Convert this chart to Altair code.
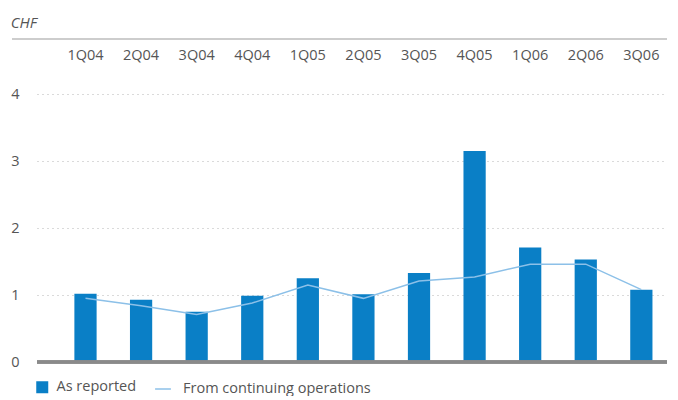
import altair as alt
import pandas as pd

quarters = ["1Q04", "2Q04", "3Q04", "4Q04", "1Q05", "2Q05", "3Q05", "4Q05", "1Q06", "2Q06", "3Q06"]
as_reported = [1.02, 0.93, 0.75, 0.99, 1.25, 1.01, 1.33, 3.15, 1.71, 1.53, 1.08]
continuing = [0.95, 0.84, 0.71, 0.88, 1.15, 0.95, 1.21, 1.27, 1.46, 1.46, 1.08]
y_ticks = [0, 0.5, 1, 1.5, 2, 2.5, 3, 3.5, 4]

BAR = "#0a7fc6"
LINE = "#8cc0e8"
TXT = "#555555"
FONT = "Open Sans"
FS = 14.5
W, H = 630, 268

df = pd.DataFrame({
    "quarter": quarters,
    "reported": as_reported,
    "continuing": continuing,
    "s1": "As reported",
    "s2": "From continuing operations",
})

xenc = alt.X("quarter:N", sort=quarters, title=None,
             scale=alt.Scale(paddingInner=0.6, paddingOuter=0.467, align=0.72),
             axis=alt.Axis(orient="top", ticks=False, domain=False, labelPadding=32,
                           labelAngle=0, labelFontSize=FS, labelColor=TXT, labelFont=FONT))

yscale = alt.Scale(domain=[0, 4], nice=False)

bars = alt.Chart(df).mark_bar(color=BAR).encode(
    x=xenc,
    y=alt.Y("reported:Q", scale=yscale, title=None,
            axis=alt.Axis(values=y_ticks, ticks=False, domain=False, labelPadding=18,
                          labelExpr="datum.value % 1 == 0 ? format(datum.value, 'd') : ''",
                          labelFontSize=FS, labelColor=TXT, labelFont=FONT,
                          grid=True, gridColor="#b5b5b5", gridDash=[1, 4], gridWidth=1)),
    color=alt.Color("s1:N", title=None,
                    scale=alt.Scale(domain=["As reported"], range=[BAR]),
                    legend=alt.Legend(orient="none", legendX=-2, legendY=H + 18,
                                      symbolType="square", symbolSize=144,
                                      labelFontSize=FS, labelColor=TXT, labelFont=FONT,
                                      labelOffset=7, labelLimit=400)),
)

line = alt.Chart(df).mark_line(strokeWidth=1.5).encode(
    x=alt.X("quarter:N", sort=quarters),
    y=alt.Y("continuing:Q", scale=yscale),
    stroke=alt.Stroke("s2:N", title=None,
                      scale=alt.Scale(domain=["From continuing operations"], range=[LINE]),
                      legend=alt.Legend(orient="none", legendX=117, legendY=H + 18,
                                        symbolType="stroke", symbolSize=250,
                                        symbolStrokeWidth=1.5,
                                        labelFontSize=FS, labelColor=TXT, labelFont=FONT,
                                        labelOffset=11, labelLimit=400)),
)

base_rule = alt.Chart(df).mark_rule(color="#8a8a8a", strokeWidth=2.5).encode(
    y=alt.datum(0)
)

top_rule = alt.Chart(df).mark_rule(color="#cccccc", strokeWidth=1.5).encode(
    x=alt.value(-25), x2=alt.value(W), y=alt.value(-55)
)

chart = alt.layer(bars, line, base_rule, top_rule).resolve_scale(
    color="independent", stroke="independent"
).properties(
    width=W, height=H,
    padding={"left": 2, "top": 8, "right": 0, "bottom": 0},
    title=alt.TitleParams("CHF", anchor="start", frame="bounds", fontStyle="italic",
                          fontWeight="normal", fontSize=15, color=TXT, font=FONT, offset=7),
).configure_view(stroke=None).configure_legend(padding=0)

chart.save("out.html", embed_options={"renderer": "svg", "actions": False})
